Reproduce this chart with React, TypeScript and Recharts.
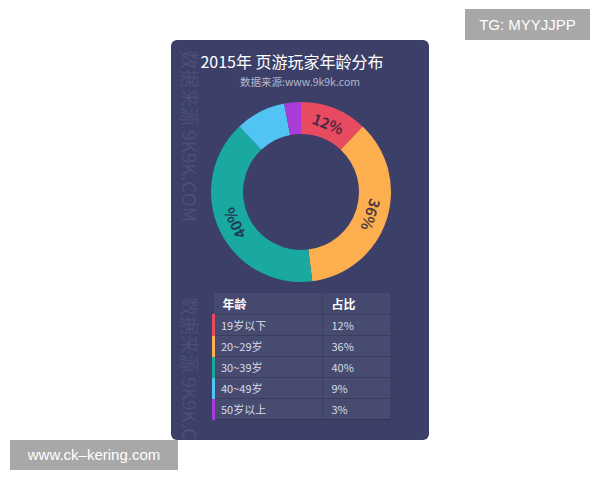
import { PieChart, Pie, Cell } from "recharts";

const ages = ["19岁以下", "20~29岁", "30~39岁", "40~49岁", "50岁以上"];
const shares = [12, 36, 40, 9, 3];
const colors = ["#e84a5f", "#fdae4f", "#19a9a1", "#52c4f4", "#a93bd8"];

const pieData = ages.map((name, i) => ({ name, value: shares[i] }));

const FONT = "'Noto Sans CJK SC', 'Noto Sans', sans-serif";
const CARD_BG = "#3c4068";
const RAD = Math.PI / 180;

function SliceLabel(props: any) {
  const { cx, cy, midAngle, innerRadius, outerRadius, value } = props;
  if (value < 10) return null;
  const r = (innerRadius + outerRadius) / 2;
  const x = cx + r * Math.cos(-midAngle * RAD);
  const y = cy + r * Math.sin(-midAngle * RAD);
  const rot = 90 - midAngle;
  return (
    <text
      x={x}
      y={y}
      fill="rgba(35,30,60,0.8)"
      fontSize={15}
      fontWeight="bold"
      fontFamily={FONT}
      textAnchor="middle"
      dominantBaseline="central"
      transform={`rotate(${rot} ${x} ${y})`}
    >
      {value}%
    </text>
  );
}

// faint vertical watermark on the card's left edge
const mark = (top: number) => (
  <div
    style={{
      position: "absolute",
      left: 29,
      top,
      transformOrigin: "0 0",
      transform: "rotate(90deg)",
      whiteSpace: "nowrap",
      fontSize: 19,
      color: "rgba(255,255,255,0.09)",
      fontFamily: FONT,
      lineHeight: "20px",
    }}
  >
    数据来源 9K9K.COM
  </div>
);

export default function App() {
  return (
    <div style={{ position: "absolute", left: 0, top: 0, width: 600, height: 480, background: "#fff", fontFamily: FONT }}>
      <div style={{ position: "absolute", left: 171, top: 40, width: 258, height: 400, background: CARD_BG, borderRadius: 6, overflow: "hidden" }}>
        {mark(10)}
        {mark(257)}
        <div style={{ position: "absolute", left: -8, width: 258, top: 11, textAlign: "center", color: "#fff", fontSize: 16, lineHeight: "20px" }}>
          2015年 页游玩家年龄分布
        </div>
        <div style={{ position: "absolute", left: 0, width: 258, top: 35, textAlign: "center", color: "#b4b8cc", fontSize: 10.5, lineHeight: "14px" }}>
          数据来源:www.9k9k.com
        </div>
        <div style={{ position: "absolute", left: 0, top: 52 }}>
          <PieChart width={258} height={200} margin={{ top: 0, right: 0, bottom: 0, left: 0 }}>
            <Pie
              data={pieData}
              dataKey="value"
              cx={130}
              cy={100}
              innerRadius={58}
              outerRadius={90}
              startAngle={90}
              endAngle={-270}
              stroke="none"
              label={SliceLabel}
              labelLine={false}
              isAnimationActive={false}
            >
              {pieData.map((d, i) => (
                <Cell key={d.name} fill={colors[i]} />
              ))}
            </Pie>
          </PieChart>
        </div>
        <table
          style={{
            position: "absolute",
            left: 41,
            top: 253,
            width: 178,
            borderCollapse: "collapse",
            fontSize: 11,
            color: "#d8dbe8",
          }}
        >
          <thead>
            <tr style={{ background: "rgba(255,255,255,0.05)", height: 21 }}>
              <th style={{ textAlign: "left", paddingLeft: 9, color: "#fff", fontSize: 12, width: 98, borderRight: "1px solid rgba(0,0,0,0.12)", borderBottom: "1px solid rgba(0,0,0,0.18)" }}>年龄</th>
              <th style={{ textAlign: "left", paddingLeft: 9, color: "#fff", fontSize: 12, borderBottom: "1px solid rgba(0,0,0,0.18)" }}>占比</th>
            </tr>
          </thead>
          <tbody>
            {ages.map((a, i) => (
              <tr key={a} style={{ background: "rgba(255,255,255,0.06)", height: 21 }}>
                <td style={{ padding: "0 0 0 6px", borderLeft: `3px solid ${colors[i]}`, borderRight: "1px solid rgba(0,0,0,0.12)", borderBottom: "1px solid rgba(0,0,0,0.18)" }}>{a}</td>
                <td style={{ padding: "0 0 0 9px", borderBottom: "1px solid rgba(0,0,0,0.18)" }}>{shares[i]}%</td>
              </tr>
            ))}
          </tbody>
        </table>
      </div>
      <div style={{ position: "absolute", left: 465, top: 9, width: 125, height: 31, background: "#a8a8a8", color: "#fff", fontSize: 15, lineHeight: "31px", textAlign: "center", fontFamily: "'Liberation Sans', sans-serif" }}>
        TG: MYYJJPP
      </div>
      <div style={{ position: "absolute", left: 10, top: 440, width: 168, height: 30, background: "#a8a8a8", color: "#fff", fontSize: 15, lineHeight: "30px", textAlign: "center", fontFamily: "'Liberation Sans', sans-serif" }}>
        www.ck–kering.com
      </div>
    </div>
  );
}
